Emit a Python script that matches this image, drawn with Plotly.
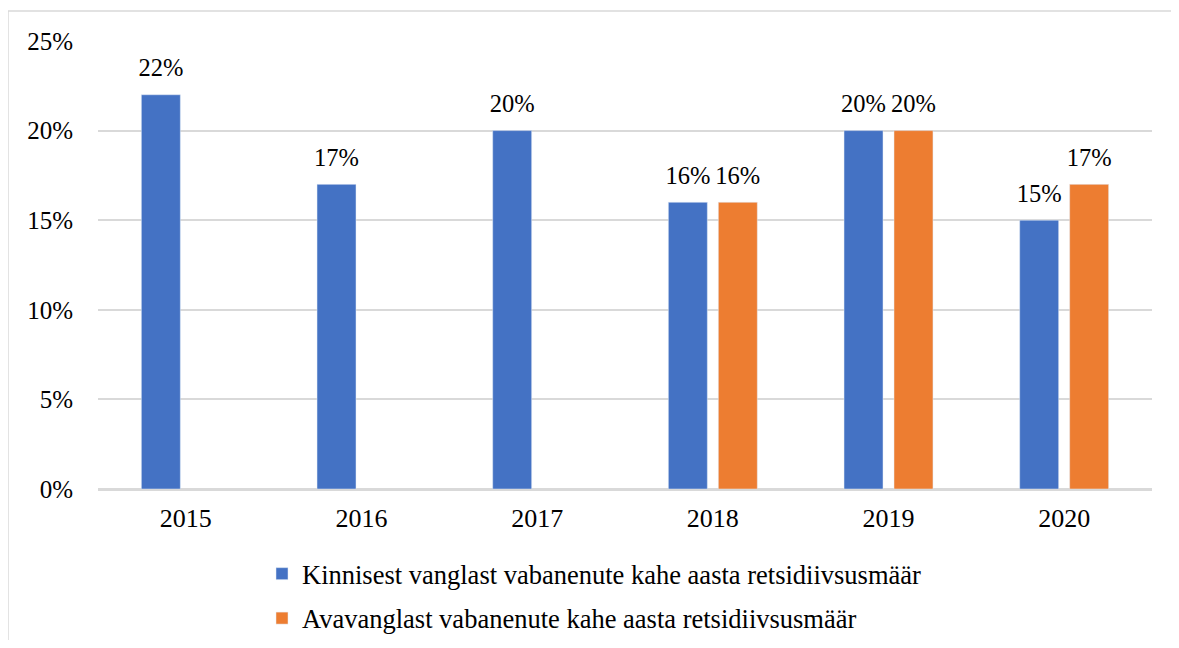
import plotly.graph_objects as go

years = ["2015", "2016", "2017", "2018", "2019", "2020"]
kinnine = [0.22, 0.17, 0.20, 0.16, 0.20, 0.15]
avavangla = [None, None, None, 0.16, 0.20, 0.17]
names = ["Kinnisest vanglast vabanenute kahe aasta retsidiivsusmäär",
         "Avavanglast vabanenute kahe aasta retsidiivsusmäär"]
colors = ["#4472C4", "#ED7D31"]

font = "Liberation Serif"
fs = 25

fig = go.Figure()
for vals, name, col, grp in [(kinnine, names[0], colors[0], "a"), (avavangla, names[1], colors[1], "b")]:
    fig.add_trace(go.Bar(
        x=years, y=vals, name=name, marker_color=col, legendgroup=grp,
        offsetgroup=grp, alignmentgroup="g",
    ))
for vals, grp in [(kinnine, "a"), (avavangla, "b")]:
    fig.add_trace(go.Scatter(
        x=years, y=vals, mode="markers+text", showlegend=False,
        offsetgroup=grp, alignmentgroup="g",
        marker=dict(size=18, opacity=0), hoverinfo="skip",
        text=[f"{v*100:.0f}%" if v is not None else "" for v in vals],
        textposition="top center", cliponaxis=False,
        textfont=dict(family=font, size=24.5, color="#000000"),
    ))

# page has 8px body margin, so figure sits at (8,8)
fig.update_layout(
    width=1163, height=632,
    margin=dict(l=90, r=19, t=33, b=151, autoexpand=False),
    paper_bgcolor="white", plot_bgcolor="white",
    barmode="group", bargap=0.431, bargroupgap=0.22, scattermode="group",
    scattergap=0.431,
    font=dict(family=font, size=fs, color="#000000"),
    showlegend=True,
    legend=dict(orientation="v", x=0.1556, xanchor="left", y=-0.136, yanchor="top",
                font=dict(family=font, size=26.5, color="#000000"),
                tracegroupgap=7, itemwidth=30),
    yaxis=dict(range=[0, 0.25], dtick=0.05, tickformat=".0%",
               showgrid=True, gridcolor="#D9D9D9", gridwidth=1.5,
               zeroline=True, zerolinecolor="#D9D9D9", zerolinewidth=1.5,
               showline=False, ticks="", ticklabelstandoff=24),
    xaxis=dict(showline=True, linecolor="#D9D9D9", linewidth=1.5, ticks="",
               showgrid=False, ticklabelstandoff=5,
               tickfont=dict(family=font, size=26)),
    shapes=[dict(type="rect", xref="paper", yref="paper",
                 x0=-0.0854, x1=1.05, y0=-0.40, y1=1.067,
                 line=dict(color="#D9D9D9", width=1.5), fillcolor="rgba(0,0,0,0)")],
)

fig.write_html("out.html")
